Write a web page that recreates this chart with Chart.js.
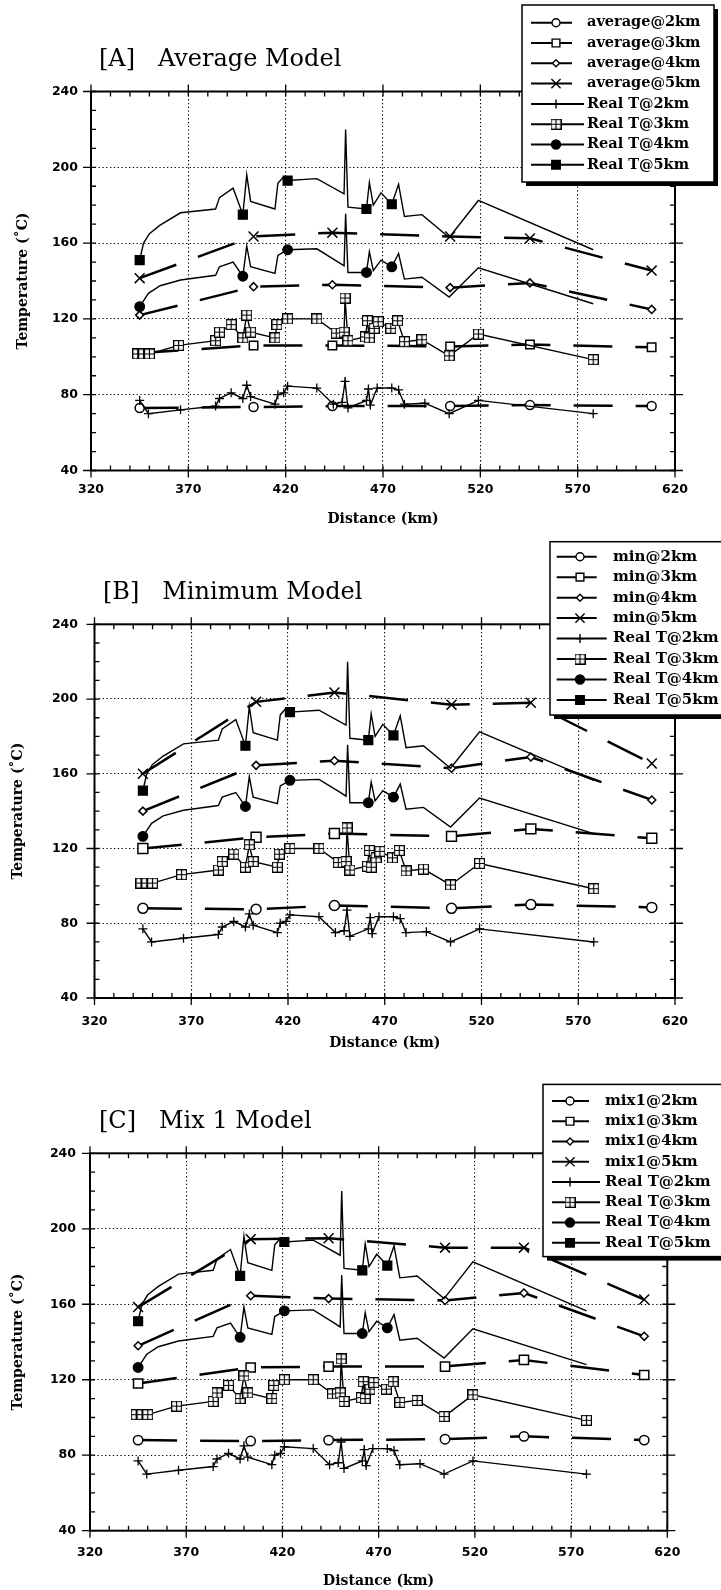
<!DOCTYPE html>
<html><head><meta charset="utf-8">
<script src="https://cdn.jsdelivr.net/npm/chart.js@4.4.0/dist/chart.umd.min.js"></script>
<style>
html,body{margin:0;padding:0;background:#fff;width:721px;height:1590px;overflow:hidden}
canvas{position:absolute;left:0}
</style></head><body>
<canvas id="cA" width="721" height="530" style="top:0px"></canvas>
<canvas id="cB" width="721" height="530" style="top:530px"></canvas>
<canvas id="cC" width="721" height="530" style="top:1060px"></canvas>
<script>
// ---------- data ----------
const distanceTicks = [320, 370, 420, 470, 520, 570, 620];
const temperatureTicks = [40, 80, 120, 160, 200, 240];

const modelKm = [345, 403.5, 444, 504.5, 545.5, 608];
const average2km = [73, 73.5, 74, 74, 74.5, 74];
const average3km = [102, 106, 106, 105.5, 106.5, 105];
const average4km = [122, 137, 138, 136.5, 139, 125];
const average5km = [141.5, 163.5, 165.5, 163.5, 162.5, 145.5];
const min2km = [88, 87.5, 89.5, 88, 90, 88.5];
const min3km = [120, 126, 128, 126.5, 130.5, 125.5];
const min4km = [140, 164.5, 167, 163, 169, 146];
const min5km = [160, 198.5, 203.5, 197, 198, 165.5];
const mix1_2km = [88, 87.5, 88, 88.5, 90, 88];
const mix1_3km = [118, 126.5, 127, 127, 130.5, 122.5];
const mix1_4km = [138, 164.5, 163, 162, 166, 143];
const mix1_5km = [158.5, 194.5, 195, 190, 190, 162.5];

const realT2Km = [345, 349.5, 366, 384, 386, 392, 398, 400, 402, 414.5, 416, 419, 421, 436, 444.5, 449, 450.5, 452, 461.5, 462.5, 463.5, 467, 474.5, 478, 481, 491.5, 504, 519, 578];
const realT2 = [77, 70, 72, 74, 78, 81, 78, 85, 79, 75, 80, 81, 84.5, 83.5, 75, 76, 87, 73, 77, 83, 74.5, 83.5, 83.5, 82.5, 75, 75.5, 70, 77, 70];

const realT3Km = [344, 347, 350, 365, 384, 386, 392, 398, 400, 402, 414.5, 415.5, 421, 436, 446, 450, 450.5, 452, 461, 462, 463, 465.5, 467.5, 474, 477.5, 481, 490, 504, 519, 578];
const realT3 = [101.5, 101.5, 101.5, 106, 108.5, 113, 117, 110, 122, 113, 110, 117, 120, 120, 112.5, 113, 131, 108.5, 110.5, 119, 110, 115, 118.5, 115, 119, 108, 109, 100.5, 112, 98.5];

const realT4Km = [345, 349.5, 355.5, 366, 384, 386, 393, 398, 400, 402, 414.5, 416, 421, 436, 447, 450, 450.8, 452, 461.5, 463, 465, 469, 474.5, 478, 481, 490, 504, 519, 578];
const realT4 = [126.5, 133.5, 137.5, 140.5, 143, 147.5, 150, 142.5, 158.5, 147.5, 144, 153.5, 156.5, 157, 150, 148, 175.5, 144.5, 144.5, 155.5, 145.5, 151, 147.5, 154.5, 141, 142, 131.5, 147, 128];

const realT5Km = [345, 347, 350, 355.5, 366, 384, 386, 393, 398, 400, 402, 414.5, 416, 419, 421, 436, 450, 450.8, 452, 461.5, 463, 465, 469, 474.5, 478, 481, 490, 504, 519, 578];
const realT5 = [151, 160, 165, 169.5, 176, 178, 184, 189, 175, 196, 182, 178, 191.5, 195, 193, 194, 186, 220, 179, 178, 192, 180, 186.5, 180.5, 191, 174, 175, 163, 182.5, 156.5];

// points of the 4 km / 5 km records that carry a marker
const markedKm = [345, 398, 421, 461.5, 474.5];

// ---------- helpers ----------
function makeBoxCross(size) {
  const c = document.createElement('canvas');
  c.width = size; c.height = size;
  const g = c.getContext('2d');
  g.fillStyle = '#fff'; g.fillRect(0, 0, size, size);
  g.strokeStyle = '#000'; g.lineWidth = 1.2;
  g.strokeRect(0.6, 0.6, size - 1.2, size - 1.2);
  g.beginPath();
  g.moveTo(size / 2, 0); g.lineTo(size / 2, size);
  g.moveTo(0, size / 2); g.lineTo(size, size / 2);
  g.stroke();
  return c;
}
const boxCross = makeBoxCross(11);

function drawMarker(ctx, style, x, y, r, fill) {
  ctx.save();
  ctx.setLineDash([]);
  ctx.lineWidth = 1.4; ctx.strokeStyle = '#000'; ctx.fillStyle = fill;
  if (typeof style !== 'string') {
    ctx.drawImage(style, x - style.width / 2, y - style.height / 2);
    ctx.restore(); return;
  }
  ctx.beginPath();
  if (style === 'circle') ctx.arc(x, y, r, 0, Math.PI * 2);
  else if (style === 'rect') { const s = r * Math.SQRT1_2; ctx.rect(x - s, y - s, 2 * s, 2 * s); }
  else if (style === 'rectRot') { ctx.moveTo(x - r, y); ctx.lineTo(x, y - r); ctx.lineTo(x + r, y); ctx.lineTo(x, y + r); ctx.closePath(); }
  else if (style === 'cross') { ctx.moveTo(x, y - r); ctx.lineTo(x, y + r); ctx.moveTo(x - r, y); ctx.lineTo(x + r, y); }
  else if (style === 'crossRot') { const s = r * Math.SQRT1_2; ctx.moveTo(x - s, y - s); ctx.lineTo(x + s, y + s); ctx.moveTo(x - s, y + s); ctx.lineTo(x + s, y - s); }
  if (style === 'circle' || style === 'rect' || style === 'rectRot') ctx.fill();
  ctx.stroke();
  ctx.restore();
}

function modelDs(label, values, style, r, legendR) {
  return {
    label, legendR, order: 1,
    data: modelKm.map((x, i) => ({x, y: values[i]})),
    borderColor: '#000', borderWidth: 2.5, borderDash: [39, 23], borderCapStyle: 'butt',
    pointStyle: style, pointRadius: r, pointHoverRadius: r,
    pointBorderWidth: 1.5, pointBorderColor: '#000', pointBackgroundColor: '#fff',
    tension: 0, fill: false
  };
}
function realDs(label, km, vals, style, r, fill, marked, legendR) {
  const rad = marked ? (c => marked.includes(km[c.dataIndex]) ? r : 0) : r;
  return {
    label, legendR, order: 0,
    data: km.map((x, i) => ({x, y: vals[i]})),
    borderColor: '#000', borderWidth: 1.4,
    pointStyle: style, pointRadius: rad, pointHoverRadius: rad,
    pointBorderWidth: 1.3, pointBorderColor: '#000', pointBackgroundColor: fill,
    tension: 0, fill: false
  };
}

const frameTicks = {
  id: 'frameTicks',
  beforeDatasetsDraw(chart) {
    const {ctx, chartArea: a, scales: {x, y}} = chart;
    ctx.save();
    ctx.setLineDash([]);
    ctx.strokeStyle = '#000';
    ctx.lineWidth = 1.3;
    ctx.beginPath();
    for (let v = x.min; v <= x.max + 1e-6; v += 10) {
      const px = x.getPixelForValue(v);
      const major = distanceTicks.includes(v);
      const inn = 5, out = major ? 7 : 0;
      ctx.moveTo(px, a.bottom + out); ctx.lineTo(px, a.bottom - inn);
      ctx.moveTo(px, a.top - out); ctx.lineTo(px, a.top + inn);
    }
    for (let v = y.min; v <= y.max + 1e-6; v += 10) {
      const py = y.getPixelForValue(v);
      const major = temperatureTicks.includes(v);
      const inn = 5, out = major ? 8 : 0;
      ctx.moveTo(a.left - out, py); ctx.lineTo(a.left + inn, py);
      ctx.moveTo(a.right + out, py); ctx.lineTo(a.right - inn, py);
    }
    ctx.stroke();
    ctx.lineWidth = 2;
    ctx.strokeRect(a.left, a.top, a.right - a.left, a.bottom - a.top);
    ctx.restore();
  }
};

function titleLegendPlugin(p) {
  return {
    id: 'titleLegend',
    afterDraw(chart) {
      const ctx = chart.ctx;
      ctx.save();
      ctx.fillStyle = '#000';
      ctx.font = "24px 'DejaVu Serif'";
      ctx.textBaseline = 'middle'; ctx.textAlign = 'left';
      ctx.fillText(p.title, p.titleX, p.titleY);
      const L = p.legend;
      ctx.fillStyle = '#000';
      ctx.fillRect(L.l + 4, L.t + 4, L.r - L.l, L.b - L.t);
      ctx.fillStyle = '#fff';
      ctx.fillRect(L.l, L.t, L.r - L.l, L.b - L.t);
      ctx.lineWidth = 1.5; ctx.strokeStyle = '#000';
      ctx.strokeRect(L.l, L.t, L.r - L.l, L.b - L.t);
      chart.data.datasets.forEach((d, i) => {
        const yy = L.row0 + i * L.step;
        const isModel = i < 4;
        ctx.setLineDash([]);
        ctx.lineWidth = 2; ctx.strokeStyle = '#000';
        ctx.beginPath(); ctx.moveTo(L.x1, yy); ctx.lineTo(isModel ? L.mx2 : L.rx2, yy); ctx.stroke();
        drawMarker(ctx, d.pointStyle, L.mk, yy, d.legendR, d.pointBackgroundColor);
        ctx.fillStyle = '#000';
        ctx.font = "bold " + L.fs + "px 'DejaVu Serif'";
        ctx.textBaseline = 'middle'; ctx.textAlign = 'left';
        ctx.fillText(d.label, L.tx, yy);
      });
      ctx.restore();
    }
  };
}

const tickFont = {family: "'DejaVu Sans'", size: 12.5, weight: 'bold'};
const axisTitleFont = {family: "'DejaVu Serif'", size: 14, weight: 'bold'};
const gridColor = (edges) => (c) => (c.tick && edges.includes(c.tick.value)) ? 'rgba(0,0,0,0)' : '#000';

function buildChart(p) {
  const H = 530;
  const datasets = [
    modelDs(p.names[0], p.models[0], 'circle', p.cr, 4),
    modelDs(p.names[1], p.models[1], 'rect', p.sr, 5.5),
    modelDs(p.names[2], p.models[2], 'rectRot', 4, 3.5),
    modelDs(p.names[3], p.models[3], 'crossRot', 7, 6.5),
    realDs('Real T@2km', realT2Km, realT2, 'cross', 4.5, '#fff', null, 4.5),
    realDs('Real T@3km', realT3Km, realT3, boxCross, 5, '#fff', null, 5),
    realDs('Real T@4km', realT4Km, realT4, 'circle', 4.8, '#000', markedKm, 4.5),
    realDs('Real T@5km', realT5Km, realT5, 'rect', 6.3, '#000', markedKm, 6)
  ];
  return new Chart(document.getElementById(p.id), {
    type: 'line',
    data: {datasets},
    plugins: [frameTicks, titleLegendPlugin(p)],
    options: {
      responsive: false, animation: false, devicePixelRatio: 1, events: [],
      layout: {padding: {left: 0, top: p.area.top, right: 721 - p.area.right, bottom: 0}},
      plugins: {legend: {display: false}, tooltip: {enabled: false}, title: {display: false}},
      scales: {
        x: {
          type: 'linear', min: 320, max: 620,
          afterBuildTicks: s => { s.ticks = distanceTicks.map(v => ({value: v})); },
          afterFit: s => { s.height = H - p.area.bottom; },
          ticks: {font: tickFont, color: '#000', padding: p.xTickPad, maxRotation: 0, autoSkip: false, callback: v => String(v)},
          grid: {color: gridColor([320, 620]), lineWidth: 1.1, drawTicks: false},
          border: {display: false, dash: [1.3, 2.5]},
          title: {display: true, text: 'Distance (km)', font: axisTitleFont, color: '#000', padding: {top: 0, bottom: p.xTitlePad}}
        },
        y: {
          type: 'linear', min: 40, max: 240,
          afterBuildTicks: s => { s.ticks = temperatureTicks.map(v => ({value: v})); },
          afterFit: s => { s.width = p.area.left; },
          ticks: {font: tickFont, color: '#000', padding: p.yTickPad, autoSkip: false, callback: v => String(v)},
          grid: {color: gridColor([40, 240]), lineWidth: 1.1, drawTicks: false},
          border: {display: false, dash: [1.3, 2.5]},
          title: {display: true, text: 'Temperature (˚C)', font: axisTitleFont, color: '#000', padding: {top: p.yTitlePad, bottom: 0}}
        }
      }
    }
  });
}

const panels = [
  {
    id: 'cA', title: '[A]   Average Model', titleX: 99, titleY: 60,
    names: ['average@2km', 'average@3km', 'average@4km', 'average@5km'],
    models: [average2km, average3km, average4km, average5km],
    area: {left: 91, right: 675, top: 91.5, bottom: 470.5},
    xTickPad: 12, xTitlePad: 2.6, yTickPad: 13, yTitlePad: 14.6, cr: 4.5, sr: 6,
    legend: {l: 522, t: 5, r: 714, b: 182, row0: 22.7, step: 20.3, x1: 531, mx2: 572, rx2: 584, mk: 556, tx: 587, fs: 14.5}
  },
  {
    id: 'cB', title: '[B]   Minimum Model', titleX: 103, titleY: 63,
    names: ['min@2km', 'min@3km', 'min@4km', 'min@5km'],
    models: [min2km, min3km, min4km, min5km],
    area: {left: 94.5, right: 675, top: 94.3, bottom: 468},
    xTickPad: 16, xTitlePad: 8.6, yTickPad: 16.5, yTitlePad: 10, cr: 5, sr: 7,
    legend: {l: 550, t: 11.7, r: 745, b: 185, row0: 26.7, step: 20.47, x1: 556.7, mx2: 596.7, rx2: 606.7, mk: 580, tx: 613, fs: 15}
  },
  {
    id: 'cC', title: '[C]   Mix 1 Model', titleX: 99, titleY: 62,
    names: ['mix1@2km', 'mix1@3km', 'mix1@4km', 'mix1@5km'],
    models: [mix1_2km, mix1_3km, mix1_4km, mix1_5km],
    area: {left: 90, right: 667.3, top: 93.3, bottom: 470.7},
    xTickPad: 15, xTitlePad: 0, yTickPad: 14, yTitlePad: 10, cr: 4.7, sr: 6.5,
    legend: {l: 543, t: 24.4, r: 745, b: 196.6, row0: 41, step: 20.26, x1: 552, mx2: 589, rx2: 600, mk: 570, tx: 605, fs: 15}
  }
];
panels.forEach(buildChart);
</script>
</body></html>
